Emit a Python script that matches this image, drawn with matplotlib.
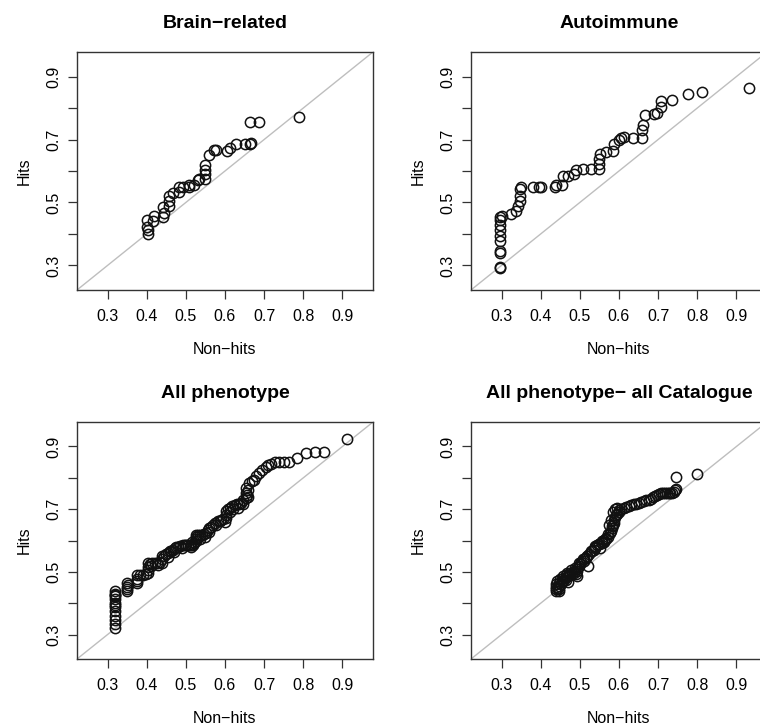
import numpy as np
import matplotlib
matplotlib.use('Agg')
import matplotlib.pyplot as plt

plt.rcParams['font.family'] = ['Liberation Sans', 'DejaVu Sans']

titles = ['Brain\u2212related', 'Autoimmune', 'All phenotype', 'All phenotype\u2212 all Catalogue']

# panel 1: Brain-related (non-hits quantile, hits quantile)
brain_x = [0.403, 0.403, 0.401, 0.401, 0.416, 0.418, 0.442, 0.443, 0.442, 0.457, 0.457, 0.457,
           0.467, 0.483, 0.483, 0.493, 0.508, 0.508, 0.522, 0.531, 0.533, 0.548, 0.548, 0.548,
           0.548, 0.559, 0.573, 0.578, 0.605, 0.614, 0.629, 0.651, 0.665, 0.667, 0.665, 0.688, 0.79]
brain_y = [0.400, 0.411, 0.421, 0.443, 0.440, 0.458, 0.453, 0.466, 0.485, 0.490, 0.506, 0.520,
           0.531, 0.533, 0.549, 0.549, 0.549, 0.554, 0.557, 0.570, 0.575, 0.573, 0.592, 0.602,
           0.618, 0.650, 0.666, 0.666, 0.664, 0.674, 0.687, 0.687, 0.687, 0.688, 0.756, 0.756, 0.771]

# panel 2: Autoimmune
auto_x = [0.297, 0.297, 0.297, 0.297, 0.297, 0.297, 0.297, 0.297, 0.297, 0.297, 0.300,
          0.325, 0.338, 0.342, 0.347, 0.347, 0.348, 0.349, 0.380, 0.396, 0.402, 0.436, 0.440,
          0.455, 0.457, 0.469, 0.486, 0.491, 0.509, 0.529, 0.548, 0.550, 0.550, 0.552, 0.567,
          0.584, 0.586, 0.601, 0.606, 0.614, 0.635, 0.658, 0.658, 0.662, 0.667, 0.690, 0.696,
          0.707, 0.707, 0.736, 0.777, 0.813, 0.931]
auto_y = [0.291, 0.295, 0.338, 0.347, 0.379, 0.395, 0.411, 0.427, 0.443, 0.455, 0.458,
          0.462, 0.474, 0.488, 0.506, 0.522, 0.543, 0.549, 0.549, 0.549, 0.549, 0.549, 0.554,
          0.557, 0.584, 0.584, 0.591, 0.602, 0.606, 0.605, 0.607, 0.623, 0.639, 0.655, 0.661,
          0.664, 0.687, 0.698, 0.706, 0.708, 0.706, 0.706, 0.730, 0.746, 0.778, 0.781, 0.785,
          0.804, 0.823, 0.826, 0.845, 0.850, 0.863]

# panel 3: All phenotype
allp_x = [0.319, 0.319, 0.319, 0.319, 0.319, 0.319, 0.319, 0.319, 0.319, 0.319, 0.319,
          0.320, 0.320, 0.349, 0.349, 0.349, 0.349, 0.352, 0.374, 0.374, 0.374, 0.376, 0.383,
          0.390, 0.397, 0.404, 0.404, 0.404, 0.404, 0.408, 0.414, 0.420, 0.427, 0.433, 0.438,
          0.438, 0.438, 0.444, 0.450, 0.455, 0.460, 0.463, 0.467, 0.472, 0.476, 0.480, 0.486,
          0.492, 0.497, 0.500, 0.505, 0.510, 0.514, 0.518, 0.522, 0.526, 0.526, 0.526, 0.526,
          0.531, 0.535, 0.540, 0.546, 0.552, 0.556, 0.560, 0.565, 0.570, 0.575, 0.581, 0.586,
          0.590, 0.596, 0.603, 0.603, 0.603, 0.608, 0.614, 0.619, 0.625, 0.630, 0.636, 0.641,
          0.647, 0.653, 0.653, 0.653, 0.655, 0.658, 0.662, 0.668, 0.674, 0.680, 0.687, 0.695,
          0.704, 0.710, 0.717, 0.728, 0.738, 0.750, 0.763, 0.784, 0.806, 0.831, 0.852, 0.911,
          0.412, 0.430, 0.455, 0.470, 0.490, 0.512, 0.515, 0.535, 0.548, 0.560, 0.578, 0.600,
          0.612, 0.620, 0.632, 0.645, 0.660]
allp_y = [0.322, 0.335, 0.348, 0.360, 0.375, 0.388, 0.401, 0.412, 0.422, 0.430, 0.438,
          0.395, 0.425, 0.438, 0.445, 0.452, 0.465, 0.459, 0.465, 0.472, 0.478, 0.491, 0.491,
          0.491, 0.494, 0.497, 0.505, 0.515, 0.529, 0.525, 0.529, 0.529, 0.529, 0.533, 0.529,
          0.540, 0.550, 0.552, 0.557, 0.561, 0.565, 0.568, 0.571, 0.575, 0.578, 0.580, 0.584,
          0.587, 0.587, 0.587, 0.587, 0.587, 0.587, 0.587, 0.593, 0.600, 0.605, 0.610, 0.619,
          0.619, 0.619, 0.619, 0.622, 0.624, 0.632, 0.640, 0.644, 0.650, 0.655, 0.661, 0.663,
          0.665, 0.668, 0.672, 0.683, 0.693, 0.700, 0.705, 0.709, 0.712, 0.715, 0.717, 0.720,
          0.728, 0.736, 0.752, 0.768, 0.745, 0.760, 0.783, 0.789, 0.794, 0.805, 0.815, 0.825,
          0.836, 0.840, 0.845, 0.850, 0.852, 0.852, 0.852, 0.863, 0.879, 0.881, 0.881, 0.924,
          0.520, 0.522, 0.548, 0.562, 0.575, 0.580, 0.595, 0.605, 0.612, 0.628, 0.650, 0.660,
          0.690, 0.700, 0.705, 0.715, 0.740]

# panel 4: All phenotype - all Catalogue
cat_x = [0.439, 0.440, 0.440, 0.440, 0.444, 0.447, 0.447, 0.447, 0.451, 0.455, 0.455, 0.459,
         0.464, 0.464, 0.464, 0.469, 0.475, 0.475, 0.480, 0.485, 0.485, 0.490, 0.494, 0.494,
         0.496, 0.498, 0.498, 0.504, 0.510, 0.510, 0.515, 0.519, 0.524, 0.530, 0.535, 0.540,
         0.540, 0.545, 0.550, 0.556, 0.561, 0.561, 0.566, 0.572, 0.572, 0.576, 0.580, 0.583,
         0.583, 0.585, 0.587, 0.587, 0.590, 0.592, 0.596, 0.600, 0.600, 0.606, 0.612, 0.618,
         0.625, 0.631, 0.638, 0.644, 0.650, 0.656, 0.663, 0.670, 0.676, 0.682, 0.688, 0.693,
         0.697, 0.703, 0.708, 0.713, 0.718, 0.722, 0.727, 0.731, 0.735, 0.740, 0.743, 0.745,
         0.745, 0.798,
         0.442, 0.450, 0.458, 0.468, 0.478, 0.488, 0.500, 0.508, 0.518, 0.528, 0.538, 0.548,
         0.556, 0.566, 0.575, 0.580, 0.584, 0.590, 0.595, 0.448, 0.470, 0.492, 0.520, 0.552]
cat_y = [0.438, 0.445, 0.452, 0.460, 0.450, 0.444, 0.455, 0.465, 0.462, 0.470, 0.478, 0.474,
         0.475, 0.485, 0.491, 0.488, 0.490, 0.498, 0.495, 0.495, 0.502, 0.494, 0.502, 0.510,
         0.515, 0.520, 0.529, 0.532, 0.535, 0.540, 0.545, 0.550, 0.557, 0.565, 0.570, 0.575,
         0.582, 0.586, 0.590, 0.592, 0.595, 0.603, 0.606, 0.610, 0.620, 0.625, 0.630, 0.640,
         0.645, 0.650, 0.655, 0.667, 0.674, 0.680, 0.686, 0.690, 0.698, 0.700, 0.703, 0.706,
         0.709, 0.712, 0.715, 0.717, 0.720, 0.723, 0.726, 0.728, 0.730, 0.734, 0.738, 0.742,
         0.746, 0.748, 0.750, 0.751, 0.752, 0.752, 0.752, 0.752, 0.752, 0.755, 0.762, 0.765,
         0.803, 0.813,
         0.470, 0.478, 0.488, 0.498, 0.505, 0.512, 0.525, 0.540, 0.552, 0.565, 0.578, 0.590,
         0.600, 0.608, 0.650, 0.665, 0.690, 0.700, 0.705, 0.440, 0.468, 0.488, 0.520, 0.575]

xs = [brain_x, auto_x, allp_x, cat_x]
ys = [brain_y, auto_y, allp_y, cat_y]

ticks = [0.3, 0.4, 0.5, 0.6, 0.7, 0.8, 0.9]
lims = (0.222, 0.978)

fig = plt.figure(figsize=(7.6, 7.25), dpi=100)
# R-like panel layout; right column runs a bit past the figure edge (cropped original)
pos = [[0.1013, 0.600, 0.3895, 0.3283],
       [0.6197, 0.600, 0.3895, 0.3283],
       [0.1013, 0.0910, 0.3895, 0.3269],
       [0.6197, 0.0910, 0.3895, 0.3269]]

for i in range(4):
    ax = fig.add_axes(pos[i])
    ax.plot(lims, lims, color='#bebebe', lw=1, zorder=1)
    ax.plot(xs[i], ys[i], 'o', mfc='none', mec='#111111', ms=7.4, mew=1.1, zorder=2)
    ax.set_xlim(lims)
    ax.set_ylim(lims)
    ax.set_xticks(ticks)
    ax.set_xticklabels(['%.1f' % t for t in ticks])
    ax.set_yticks(ticks)
    ax.set_yticklabels(['%.1f' % t if k % 2 == 0 else '' for k, t in enumerate(ticks)],
                       rotation=90, va='center')
    ax.tick_params(length=6.5, width=0.9, labelsize=11.5, pad=7, color='#333333')
    ax.tick_params(axis='y', pad=5)
    for s in ax.spines.values():
        s.set_linewidth(1.0)
        s.set_color('#333333')
    ax.set_title(titles[i], fontsize=14, fontweight='bold', pad=17)
    ax.set_xlabel('Non\u2212hits', fontsize=11.5, labelpad=13)
    ax.set_ylabel('Hits', fontsize=11.5, labelpad=10)

fig.savefig('out.png', dpi=100)
